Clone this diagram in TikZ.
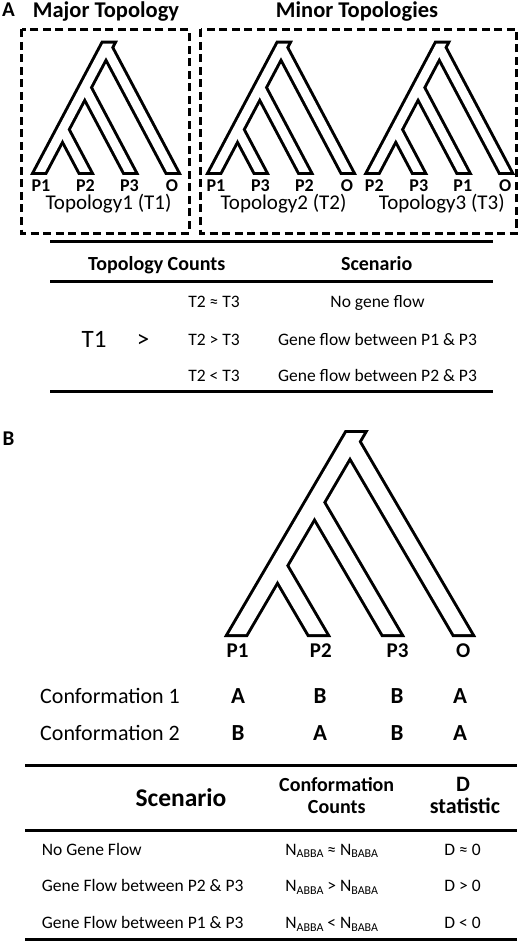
\documentclass[tikz,border=0pt]{standalone}
\usepackage{fontspec}
\setmainfont{Carlito}
\newcommand{\fsz}[1]{\fontsize{#1}{#1}\selectfont}
\newcommand{\Nsub}[1]{N\raisebox{-0.35ex}{\fsz{12}#1}}
\tikzset{
  tree line/.style={line width=6pt, line join=miter},
  topobox/.style={line width=3pt, dash pattern=on 8pt off 4.5pt},
  rule/.style={line width=3pt},
  panel/.style={anchor=base, font=\bfseries\fsz{21}},
  title/.style={anchor=base, font=\bfseries\fsz{22.5}},
  leaf/.style={anchor=base, font=\bfseries\fsz{18}},
  bigleaf/.style={anchor=base, font=\bfseries\fsz{21}},
  state/.style={anchor=base, font=\bfseries\fsz{23}},
  caption/.style={anchor=base, font=\fsz{21}},
  head/.style={anchor=base, font=\bfseries\fsz{20}},
  bhead/.style={anchor=base, font=\bfseries\fsz{20}, align=center},
  cell/.style={anchor=base, font=\fsz{17.5}},
}
% tree of thick branches: x of first leaf, bottom y, top y, slope, half width, offsets of the other leaves
\newcommand{\gtree}[6]{%
  \pgfmathsetmacro\topx{#1+#4*(#2-#3)}
  \draw[tree line] (#1-#5,#2) -- (#1+#5,#2) -- (\topx+#5,#3) -- (\topx-#5,#3) -- cycle;
  \foreach \d in {#6} {
    \pgfmathsetmacro\jx{#1+\d/2}
    \pgfmathsetmacro\jy{#2-\d/(2*#4)}
    \draw[tree line] (\jx-#5,\jy) -- (#1+\d-#5,#2) -- (#1+\d+#5,#2) -- (\jx+#5,\jy);
  }
  \fill[white] (#1-#5,#2) -- (#1+#5,#2) -- (\topx+#5,#3) -- (\topx-#5,#3) -- cycle;
  \foreach \d in {#6} {
    \pgfmathsetmacro\jx{#1+\d/2}
    \pgfmathsetmacro\jy{#2-\d/(2*#4)}
    \fill[white] (\jx-#5,\jy) -- (#1+\d-#5,#2) -- (#1+\d+#5,#2) -- (\jx+#5,\jy) -- cycle;
  }
}
\begin{document}
\begin{tikzpicture}[x=1pt,y=-1pt, every node/.append style={inner sep=0pt}]
\useasboundingbox (0,0) rectangle (520,941);

% A: topologies
\node[panel] (labA) at (8.5,17) {A};
\node[title] (major) at (106,17.5) {Major Topology};
\node[title] (minor) at (357,17.5) {Minor Topologies};
\draw[topobox] (21.7,29.5) rectangle (189,233);
\draw[topobox] (200.5,29.5) rectangle (516.5,233);

\foreach \tx/\ta/\tb/\tc/\tn in {40/P1/P2/P3/1, 215/P1/P3/P2/2, 373.3/P2/P3/P1/3} {
  \gtree{\tx}{172}{43.7}{0.53}{5}{45,89.5,132}
  \node[leaf] (t\tn a) at (\tx+1,191.5) {\ta};
  \node[leaf] (t\tn b) at (\tx+45.5,191.5) {\tb};
  \node[leaf] (t\tn c) at (\tx+89.5,191.5) {\tc};
  \node[leaf] (t\tn o) at (\tx+132,191.5) {O};
  \node[caption] (topo\tn) at (\tx+68.5,210) {Topology\tn{} (T\tn)};
}

% A: table
\draw[rule] (50,241.7) -- (493,241.7);
\node[head] (hcount) at (156.7,270.7) {Topology Counts};
\node[head] (hscen) at (376.7,270.7) {Scenario};
\draw[rule, line width=2.5pt] (50,281.7) -- (493,281.7);
\node[anchor=base, font=\fsz{25}] (tone) at (94,347) {T1};
\node[anchor=base, font=\fsz{25}] (gt) at (143,347) {>};
\foreach \y/\c/\s [count=\i] in {307.7/{T2 ≈ T3}/{No gene flow},
    345/{T2 > T3}/{Gene flow between P1 \& P3},
    381.7/{T2 < T3}/{Gene flow between P2 \& P3}} {
  \node[cell] (cnt\i) at (214,\y) {\c};
  \node[cell] (scn\i) at (377.5,\y) {\s};
}
\draw[rule] (50,391.7) -- (493,391.7);

% B: D statistic
\node[panel] (labB) at (8.5,445) {B};
\gtree{237.5}{634}{433}{0.585}{8.5}{80,154,225}
\foreach \x/\t [count=\i] in {237.5/P1, 320.8/P2, 397.5/P3, 463.3/O}
  \node[bigleaf] (bl\i) at (\x,657.7) {\t};
\node[anchor=base west, font=\fsz{22}] (conf1) at (40,703.3) {Conformation 1};
\node[anchor=base west, font=\fsz{22}] (conf2) at (40,740) {Conformation 2};
\foreach \x/\p/\q [count=\i] in {238/A/B, 320/B/A, 397/B/B, 460/A/A} {
  \node[state] (ca\i) at (\x,703.3) {\p};
  \node[state] (cb\i) at (\x,740) {\q};
}

% B: table
\draw[rule] (25,765) -- (517,765);
\node[bhead, font=\bfseries\fsz{25.5}] (bscen) at (181,806) {Scenario};
\node[bhead] (bconf) at (336.7,791.7) {Conformation};
\node[bhead] (bcnt) at (336.7,813.3) {Counts};
\node[bhead, font=\bfseries\fsz{22}] (bd) at (463,791.7) {D};
\node[bhead, font=\bfseries\fsz{22}] (bstat) at (465,813.3) {statistic};
\draw[rule] (25,830) -- (517,830);
\foreach \y/\s/\c/\d [count=\i] in {855/{No Gene Flow}/{≈}/{D ≈ 0},
    891.7/{Gene Flow between P2 \& P3}/{>}/{D > 0},
    928.3/{Gene Flow between P1 \& P3}/{<}/{D < 0}} {
  \node[cell, anchor=base west] (bs\i) at (41.7,\y) {\s};
  \node[cell] (bc\i) at (331.7,\y) {\Nsub{ABBA} \c{} \Nsub{BABA}};
  \node[cell] (bd\i) at (462.5,\y) {\d};
}
\draw[rule] (25,939.5) -- (517,939.5);
\end{tikzpicture}
\end{document}
